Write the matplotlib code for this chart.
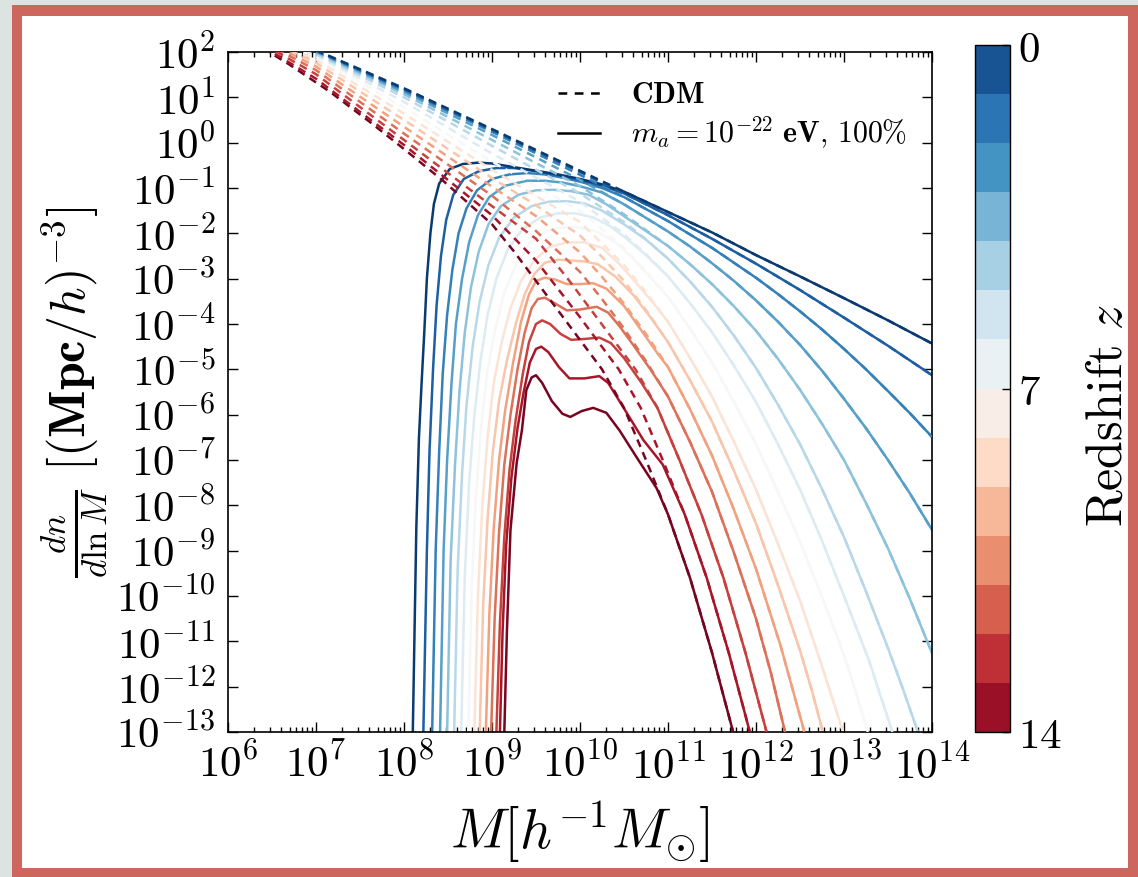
import numpy as np
import matplotlib
matplotlib.use("Agg")
import matplotlib.pyplot as plt
from matplotlib.colors import ListedColormap, Normalize
from matplotlib.cm import ScalarMappable
from matplotlib.ticker import FixedLocator, FuncFormatter, LogLocator, NullFormatter
from matplotlib.patches import Rectangle
from matplotlib.lines import Line2D

# ---------------- data: (log10 M, log10 dn/dlnM) ----------------
REDSHIFTS = list(range(15))

CDM_Z0 = [(6.0, 2.93), (7.0, 2.04), (8.0, 1.2), (9.0, 0.3), (10.0, -0.62), (10.5, -1.08), (11.0, -1.53), (11.5, -1.98), (12.0, -2.48), (12.5, -2.95), (13.0, -3.43), (13.5, -3.92), (14.0, -4.43)]
CDM_Z1 = [(6.0, 2.9), (7.0, 2.03), (8.0, 1.18), (9.0, 0.28), (10.0, -0.65), (10.5, -1.12), (11.0, -1.6), (11.5, -2.12), (12.0, -2.67), (12.5, -3.25), (13.0, -3.86), (13.5, -4.48), (14.0, -5.13)]
CDM_Z2 = [(6.0, 2.88), (7.0, 2.03), (8.0, 1.16), (9.0, 0.24), (10.0, -0.71), (10.5, -1.2), (11.0, -1.73), (11.5, -2.32), (12.0, -2.98), (12.25, -3.34), (12.5, -3.72), (12.75, -4.12), (13.0, -4.55), (13.25, -5.0), (13.5, -5.48), (13.75, -5.97), (14.0, -6.49)]
CDM_Z3 = [(6.0, 2.85), (7.0, 2.01), (8.0, 1.12), (9.0, 0.17), (10.0, -0.82), (10.5, -1.36), (11.0, -1.96), (11.25, -2.29), (11.5, -2.66), (11.75, -3.05), (12.0, -3.48), (12.25, -3.95), (12.5, -4.46), (12.75, -5.03), (13.0, -5.65), (13.25, -6.3), (13.5, -7.0), (13.75, -7.74), (14.0, -8.54)]
CDM_Z4 = [(6.0, 2.82), (7.0, 1.99), (8.0, 1.07), (9.0, 0.06), (10.0, -0.96), (10.5, -1.58), (10.75, -1.93), (11.0, -2.28), (11.25, -2.68), (11.5, -3.12), (11.75, -3.61), (12.0, -4.15), (12.25, -4.77), (12.5, -5.45), (12.75, -6.2), (13.0, -7.0), (13.25, -7.95), (13.5, -8.95), (13.75, -10.07), (14.0, -11.26)]
CDM_Z5 = [(6.0, 2.8), (7.0, 1.96), (8.0, 1.0), (9.0, -0.07), (10.0, -1.12), (10.5, -1.75), (10.75, -2.13), (11.0, -2.56), (11.25, -3.06), (11.5, -3.62), (11.75, -4.26), (12.0, -4.97), (12.25, -5.78), (12.5, -6.65), (12.75, -7.64), (13.0, -8.7), (13.25, -9.9), (13.5, -11.15), (13.67, -12.05), (13.84, -13.0)]
CDM_Z6 = [(6.0, 2.77), (7.0, 1.93), (8.0, 0.9), (9.0, -0.24), (10.0, -1.3), (10.5, -2.02), (10.75, -2.46), (11.0, -2.95), (11.25, -3.54), (11.5, -4.18), (11.75, -4.92), (12.0, -5.72), (12.25, -6.65), (12.5, -7.65), (12.75, -8.78), (13.0, -10.0), (13.28, -11.4), (13.55, -13.0)]
CDM_Z7 = [(6.0, 2.74), (7.0, 1.89), (8.0, 0.78), (9.0, -0.42), (10.0, -1.5), (10.5, -2.32), (10.75, -2.84), (11.0, -3.4), (11.25, -4.1), (11.5, -4.85), (11.75, -5.72), (12.0, -6.65), (12.25, -7.7), (12.5, -8.8), (12.75, -10.02), (13.0, -11.3), (13.14, -12.15), (13.27, -13.0)]
CDM_Z8 = [(6.0, 2.72), (7.0, 1.83), (8.0, 0.64), (9.0, -0.6), (10.0, -1.75), (10.5, -2.7), (10.75, -3.3), (11.0, -3.95), (11.25, -4.75), (11.5, -5.6), (11.75, -6.6), (12.0, -7.65), (12.25, -8.85), (12.5, -10.1), (12.75, -11.55), (12.99, -13.0)]
CDM_Z9 = [(6.0, 2.69), (7.0, 1.76), (8.0, 0.5), (9.0, -0.78), (9.5, -1.38), (10.0, -2.05), (10.25, -2.52), (10.5, -3.05), (10.75, -3.69), (11.0, -4.4), (11.25, -5.24), (11.5, -6.15), (11.75, -7.24), (12.0, -8.4), (12.25, -9.76), (12.5, -11.2), (12.63, -12.05), (12.76, -13.0)]
CDM_Z10 = [(6.0, 2.66), (7.0, 1.68), (8.0, 0.35), (9.0, -0.97), (9.5, -1.62), (10.0, -2.42), (10.25, -2.96), (10.5, -3.55), (10.75, -4.22), (11.0, -4.95), (11.25, -5.88), (11.5, -6.9), (11.75, -8.1), (12.0, -9.4), (12.28, -11.1), (12.55, -13.0)]
CDM_Z11 = [(6.0, 2.64), (7.0, 1.6), (8.0, 0.2), (9.0, -1.17), (9.5, -1.95), (10.0, -2.85), (10.25, -3.45), (10.5, -4.1), (10.75, -4.82), (11.0, -5.6), (11.25, -6.6), (11.5, -7.7), (11.75, -9.05), (12.0, -10.5), (12.17, -11.7), (12.33, -13.0)]
CDM_Z12 = [(6.0, 2.61), (7.0, 1.51), (8.0, 0.06), (9.0, -1.4), (9.5, -2.12), (9.88, -3.05), (10.13, -3.7), (10.38, -4.35), (10.63, -5.0), (10.88, -5.85), (11.13, -7.0), (11.38, -8.2), (11.63, -9.6), (11.88, -11.25), (12.12, -13.0)]
CDM_Z13 = [(6.0, 2.59), (7.0, 1.41), (8.0, -0.05), (9.0, -1.6), (9.5, -2.6), (10.0, -3.85), (10.19, -4.35), (10.44, -5.0), (10.69, -5.85), (10.94, -7.0), (11.19, -8.2), (11.44, -9.6), (11.69, -11.25), (11.93, -13.0)]
CDM_Z14 = [(6.0, 2.56), (6.7, 1.72), (7.16, 1.12), (7.61, 0.46), (8.0, -0.14), (8.45, -0.85), (9.0, -1.8), (9.25, -2.4), (9.5, -3.05), (9.75, -3.7), (10.0, -4.35), (10.25, -5.0), (10.5, -5.85), (10.75, -7.0), (11.0, -8.2), (11.25, -9.6), (11.5, -11.25), (11.74, -13.0)]

# FDM (solid) curves up to the mass where they join the CDM curve of the same redshift
FDM_Z0 = [(8.10, -13.0), (8.14, -8.5), (8.17, -6.5), (8.20, -5.3), (8.23, -4.2), (8.26, -3.0), (8.30, -2.0), (8.34, -1.35), (8.40, -0.9), (8.52, -0.58), (8.67, -0.47), (8.85, -0.44), (9.0, -0.46), (9.25, -0.54), (9.5, -0.62), (9.75, -0.7), (10.0, -0.8), (10.25, -0.92), (10.5, -1.08)]
FDM_Z1 = [(8.22, -13.0), (8.26, -9.0), (8.29, -6.8), (8.33, -5.0), (8.37, -3.6), (8.42, -2.5), (8.48, -1.7), (8.56, -1.15), (8.68, -0.8), (8.85, -0.63), (9.05, -0.56), (9.25, -0.56), (9.5, -0.63), (9.75, -0.72), (10.0, -0.82), (10.25, -0.95), (10.5, -1.12)]
FDM_Z2 = [(8.32, -13.0), (8.36, -9.0), (8.40, -6.8), (8.44, -5.1), (8.49, -3.8), (8.55, -2.8), (8.62, -2.0), (8.71, -1.45), (8.83, -1.05), (9.0, -0.8), (9.2, -0.7), (9.4, -0.67), (9.6, -0.7), (9.8, -0.77), (10.0, -0.86), (10.25, -1.0), (10.5, -1.2)]
FDM_Z3 = [(8.41, -13.0), (8.45, -9.0), (8.49, -7.0), (8.54, -5.3), (8.59, -4.0), (8.66, -3.0), (8.74, -2.2), (8.84, -1.6), (8.97, -1.2), (9.15, -0.95), (9.4, -0.84), (9.6, -0.84), (9.8, -0.88), (10.0, -0.96), (10.25, -1.1), (10.5, -1.36)]
FDM_Z4 = [(8.49, -13.0), (8.53, -9.2), (8.58, -7.1), (8.63, -5.5), (8.69, -4.2), (8.76, -3.2), (8.85, -2.4), (8.96, -1.8), (9.1, -1.4), (9.3, -1.15), (9.5, -1.05), (9.7, -1.04), (9.9, -1.07), (10.1, -1.15), (10.3, -1.36), (10.5, -1.62), (10.75, -1.95)]
FDM_Z5 = [(8.57, -13.0), (8.61, -9.4), (8.66, -7.3), (8.71, -5.8), (8.78, -4.5), (8.86, -3.5), (8.96, -2.7), (9.08, -2.1), (9.25, -1.65), (9.45, -1.4), (9.65, -1.3), (9.85, -1.29), (10.05, -1.34), (10.25, -1.5), (10.5, -1.8), (10.75, -2.14)]
FDM_Z6 = [(8.65, -13.0), (8.69, -9.6), (8.74, -7.5), (8.80, -6.0), (8.87, -4.8), (8.95, -3.8), (9.05, -3.0), (9.18, -2.35), (9.35, -1.9), (9.55, -1.65), (9.75, -1.56), (9.95, -1.56), (10.15, -1.65), (10.35, -1.85), (10.55, -2.15), (10.75, -2.48)]
FDM_Z7 = [(8.73, -13.0), (8.77, -9.8), (8.82, -7.7), (8.88, -6.2), (8.95, -5.0), (9.04, -4.1), (9.14, -3.3), (9.27, -2.7), (9.43, -2.2), (9.62, -1.95), (9.82, -1.86), (10.0, -1.87), (10.2, -1.97), (10.4, -2.2), (10.6, -2.55), (10.8, -2.97)]
FDM_Z8 = [(8.80, -13.0), (8.84, -10.0), (8.89, -8.0), (8.95, -6.5), (9.02, -5.3), (9.11, -4.4), (9.21, -3.65), (9.33, -3.05), (9.48, -2.6), (9.65, -2.3), (9.85, -2.2), (10.05, -2.2), (10.25, -2.32), (10.45, -2.68), (10.65, -3.12), (10.85, -3.58)]
FDM_Z9 = [(8.86, -13.0), (8.90, -10.2), (8.95, -8.3), (9.01, -6.8), (9.08, -5.7), (9.17, -4.8), (9.27, -4.0), (9.37, -3.35), (9.48, -2.9), (9.6, -2.65), (9.75, -2.58), (9.9, -2.6), (10.05, -2.62), (10.2, -2.68), (10.4, -2.95), (10.6, -3.35), (10.8, -3.85)]
FDM_Z10 = [(8.93, -13.0), (8.97, -10.4), (9.02, -8.5), (9.08, -7.0), (9.15, -5.9), (9.24, -4.85), (9.33, -3.95), (9.42, -3.35), (9.5, -3.05), (9.6, -2.98), (9.72, -3.02), (9.85, -3.12), (10.0, -3.12), (10.15, -3.1), (10.3, -3.22), (10.5, -3.6), (10.7, -4.15), (10.9, -4.7)]
FDM_Z11 = [(8.99, -13.0), (9.03, -10.5), (9.08, -8.6), (9.14, -7.1), (9.21, -6.0), (9.29, -5.0), (9.37, -4.2), (9.45, -3.65), (9.52, -3.45), (9.6, -3.42), (9.72, -3.55), (9.85, -3.7), (10.0, -3.68), (10.19, -3.62), (10.32, -3.75), (10.45, -4.05), (10.6, -4.45), (10.8, -5.0)]
FDM_Z12 = [(9.05, -13.0), (9.09, -10.6), (9.14, -8.7), (9.2, -7.2), (9.27, -6.1), (9.35, -5.1), (9.42, -4.4), (9.5, -4.0), (9.57, -3.92), (9.66, -4.0), (9.78, -4.22), (9.9, -4.35), (10.05, -4.33), (10.22, -4.3), (10.35, -4.42), (10.5, -4.75), (10.7, -5.3), (10.88, -5.85)]
FDM_Z13 = [(9.09, -13.0), (9.12, -10.8), (9.16, -8.9), (9.22, -7.4), (9.29, -6.3), (9.36, -5.5), (9.43, -4.85), (9.5, -4.55), (9.56, -4.5), (9.64, -4.62), (9.76, -4.95), (9.88, -5.2), (10.05, -5.2), (10.22, -5.15), (10.32, -5.3), (10.49, -5.83), (10.72, -6.56), (10.94, -7.1)]
FDM_Z14 = [(9.14, -13.0), (9.17, -10.75), (9.21, -8.54), (9.28, -7.07), (9.34, -6.34), (9.39, -5.46), (9.45, -5.18), (9.5, -5.13), (9.57, -5.3), (9.68, -5.7), (9.8, -5.98), (9.89, -6.05), (10.02, -5.92), (10.15, -5.85), (10.3, -5.96), (10.45, -6.35), (10.64, -6.93), (10.87, -7.62)]

CDM_CURVES = [CDM_Z0, CDM_Z1, CDM_Z2, CDM_Z3, CDM_Z4, CDM_Z5, CDM_Z6, CDM_Z7,
              CDM_Z8, CDM_Z9, CDM_Z10, CDM_Z11, CDM_Z12, CDM_Z13, CDM_Z14]
FDM_CURVES = [FDM_Z0, FDM_Z1, FDM_Z2, FDM_Z3, FDM_Z4, FDM_Z5, FDM_Z6, FDM_Z7,
              FDM_Z8, FDM_Z9, FDM_Z10, FDM_Z11, FDM_Z12, FDM_Z13, FDM_Z14]

X_TICK_EXP = list(range(6, 15))
Y_TICK_EXP = list(range(-13, 3))
CBAR_TICKS = [0, 7, 14]
N_CBAR_BLOCKS = 14
LEGEND_LABELS = [r"$\mathbf{CDM}$", r"$m_a = 10^{-22}\ \mathbf{eV,}\,\mathbf{100\%}$"]

# ---------------- style ----------------
plt.rcParams["mathtext.fontset"] = "cm"
plt.rcParams["font.family"] = "DejaVu Serif"

W, H = 1138, 877
fig = plt.figure(figsize=(W / 100, H / 100), dpi=100)
fig.patch.set_facecolor("#dde3e0")
fig.patches.append(Rectangle((12 / W, 0), 1 - 12 / W, 1 - 5 / H, transform=fig.transFigure,
                             facecolor="#cd665f", edgecolor="none", zorder=-10))
fig.patches.append(Rectangle((22 / W, 9 / H), (1128 - 22) / W, (868 - 16) / H,
                             transform=fig.transFigure, facecolor="white",
                             edgecolor="none", zorder=-9))

ax = fig.add_axes([228 / W, 1 - 732 / H, 704 / W, 680 / H])
ax.set_facecolor("white")

cmap_base = plt.get_cmap("RdBu")
colors = [cmap_base(0.98 - 0.96 * z / 14) for z in REDSHIFTS]

LW = 1.8
for z in reversed(REDSHIFTS):
    fdm = np.array(FDM_CURVES[z])
    cdm = np.array(CDM_CURVES[z])
    tail = cdm[cdm[:, 0] > fdm[-1, 0]]
    pts = np.vstack([fdm, tail])
    ax.plot(10 ** pts[:, 0], 10 ** pts[:, 1], color=colors[z], lw=LW,
            solid_joinstyle="round", zorder=2)
for z in reversed(REDSHIFTS):
    pts = np.array(CDM_CURVES[z])
    ax.plot(10 ** pts[:, 0], 10 ** pts[:, 1], color=colors[z], lw=LW,
            linestyle=(0, (3.2, 2.3)), zorder=3)

ax.set_xscale("log")
ax.set_yscale("log")
ax.set_xlim(1e6, 1e14)
ax.set_ylim(1e-13, 1e2)

ax.xaxis.set_major_locator(FixedLocator([10.0 ** e for e in X_TICK_EXP]))
ax.yaxis.set_major_locator(FixedLocator([10.0 ** e for e in Y_TICK_EXP]))
ax.xaxis.set_minor_locator(LogLocator(base=10, subs=np.arange(2, 10), numticks=100))
ax.yaxis.set_minor_locator(FixedLocator([]))
ax.xaxis.set_minor_formatter(NullFormatter())
fmt = FuncFormatter(lambda v, p: r"$10^{%d}$" % int(round(np.log10(v))))
ax.xaxis.set_major_formatter(fmt)
ax.yaxis.set_major_formatter(fmt)
ax.tick_params(which="both", direction="in", top=True, right=True, labelsize=31, width=1.0)
ax.tick_params(which="major", length=7)
ax.tick_params(which="minor", length=3.5)
ax.tick_params(axis="x", pad=9)
ax.tick_params(axis="y", pad=9)
for s in ax.spines.values():
    s.set_linewidth(1.2)

ax.set_xlabel(r"$M[h^{-1}M_{\odot}]$", fontsize=40)
ax.xaxis.set_label_coords(0.5, -0.1)
ax.set_ylabel(r"$\frac{dn}{d\ln M}\ [(\mathbf{Mpc}/h)^{-3}]$", fontsize=36)
ax.yaxis.set_label_coords(-0.168, 0.5)

handles = [Line2D([], [], color="black", lw=1.8, linestyle=(0, (3.5, 3))),
           Line2D([], [], color="black", lw=1.8)]
ax.legend(handles, LEGEND_LABELS, loc="upper left", bbox_to_anchor=(0.469, 0.957),
          frameon=False, fontsize=21.5, handlelength=1.4, handletextpad=1.05,
          labelspacing=0.2, borderpad=0.0, borderaxespad=0.0)

# ---------------- colorbar ----------------
cbar_colors = [cmap_base(1 - (i + 1) / (N_CBAR_BLOCKS + 1)) for i in range(N_CBAR_BLOCKS)]
cax = fig.add_axes([975 / W, 1 - 732 / H, 35 / W, 687 / H])
sm = ScalarMappable(cmap=ListedColormap(cbar_colors), norm=Normalize(vmin=0, vmax=14))
cb = fig.colorbar(sm, cax=cax)
cax.invert_yaxis()
cb.set_ticks(CBAR_TICKS)
cb.set_ticklabels([r"$\mathbf{%d}$" % t for t in CBAR_TICKS])
cax.tick_params(direction="in", length=6, width=1.0, labelsize=31, pad=6)
cb.outline.set_linewidth(1.0)
cb.set_label(r"$\mathrm{Redshift}\ z$", fontsize=36)
cax.yaxis.set_label_coords(3.1, 0.46)

fig.savefig("out.png", dpi=100, facecolor=fig.get_facecolor())
